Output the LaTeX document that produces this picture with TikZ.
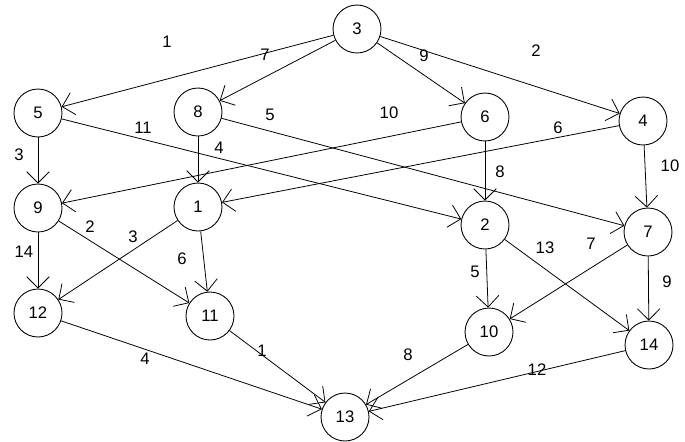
\documentclass[tikz,border=0pt]{standalone}
\usepackage{fontspec}
\setmainfont{Liberation Sans}
\usetikzlibrary{arrows.meta}

\begin{document}
\begin{tikzpicture}[
        x=0.02cm, y=-0.02cm,
        every node/.style={font=\fontsize{9.5}{11}\selectfont},
        vtx/.style={draw, circle, line width=0.5pt, minimum size=0.96cm, inner sep=0pt},
        lbl/.style={inner sep=0pt},
        ar/.style={-{Straight Barb[angle=90:0.32cm]}, line width=0.45pt}
    ]
        \useasboundingbox (0,0) rectangle (685,441);
        % vertices
        \node[vtx] (v3)  at (357,29)  {3};
        \node[vtx] (v5)  at (38,113)  {5};
        \node[vtx] (v8)  at (198,112) {8};
        \node[vtx] (v6)  at (485,117) {6};
        \node[vtx] (v4)  at (643,121) {4};
        \node[vtx] (v9)  at (38,208)  {9};
        \node[vtx] (v1)  at (198,207) {1};
        \node[vtx] (v2)  at (485,225) {2};
        \node[vtx] (v7)  at (648,232) {7};
        \node[vtx] (v12) at (38,313)  {12};
        \node[vtx] (v11) at (210,316) {11};
        \node[vtx] (v10) at (489,332) {10};
        \node[vtx] (v14) at (649,345) {14};
        \node[vtx] (v13) at (345,417) {13};
        % edges
        \draw[ar] (v3) -- (v5);
        \draw[ar] (v3) -- (v8);
        \draw[ar] (v3) -- (v6);
        \draw[ar] (v3) -- (v4);
        \draw[ar] (v5) -- (v9);
        \draw[ar] (v5) -- (v2);
        \draw[ar] (v8) -- (v1);
        \draw[ar] (v8) -- (v7);
        \draw[ar] (v6) -- (v9);
        \draw[ar] (v6) -- (v2);
        \draw[ar] (v4) -- (v1);
        \draw[ar] (v4) -- (v7);
        \draw[ar] (v9) -- (v12);
        \draw[ar] (v9) -- (v11);
        \draw[ar] (v1) -- (v12);
        \draw[ar] (v1) -- (v11);
        \draw[ar] (v2) -- (v10);
        \draw[ar] (v2) -- (v14);
        \draw[ar] (v7) -- (v10);
        \draw[ar] (v7) -- (v14);
        \draw[ar] (v12) -- (v13);
        \draw[ar] (v11) -- (v13);
        \draw[ar] (v10) -- (v13);
        \draw[ar] (v14) -- (v13);
        % weights
        \node[lbl] (w35)   at (167,42)  {1};
        \node[lbl] (w38)   at (265,55)  {7};
        \node[lbl] (w36)   at (424,56)  {9};
        \node[lbl] (w34)   at (536,51)  {2};
        \node[lbl] (w59)   at (19,155)  {3};
        \node[lbl] (w52)   at (143,128) {11};
        \node[lbl] (w81)   at (219,148) {4};
        \node[lbl] (w87)   at (270,115) {5};
        \node[lbl] (w69)   at (389,113) {10};
        \node[lbl] (w62)   at (500,172) {8};
        \node[lbl] (w41)   at (558,128) {6};
        \node[lbl] (w47)   at (670,166) {10};
        \node[lbl] (w912)  at (24,252)  {14};
        \node[lbl] (w911)  at (90,227)  {2};
        \node[lbl] (w112)  at (133,237) {3};
        \node[lbl] (w111)  at (182,259) {6};
        \node[lbl] (w210)  at (475,272) {5};
        \node[lbl] (w214)  at (545,248) {13};
        \node[lbl] (w710)  at (591,244) {7};
        \node[lbl] (w714)  at (667,282) {9};
        \node[lbl] (w1213) at (145,359) {4};
        \node[lbl] (w1113) at (262,351) {1};
        \node[lbl] (w1013) at (408,355) {8};
        \node[lbl] (w1413) at (537,370) {12};
    \end{tikzpicture}
\end{document}
